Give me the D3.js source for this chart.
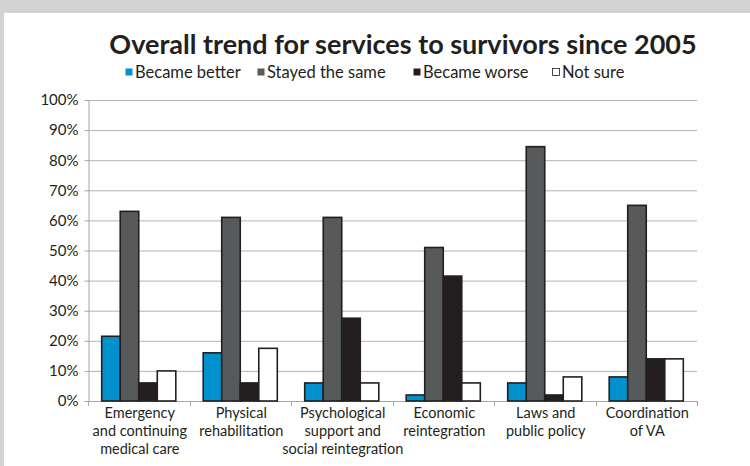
<!DOCTYPE html>
<html>
<head>
<meta charset="utf-8">
<script src="https://cdn.jsdelivr.net/npm/d3@7"></script>
<style>
  body { margin: 0; background: #d3d3d3; }
  svg { display: block; font-family: Lato, "DejaVu Sans", sans-serif; }
</style>
</head>
<body>
<script>
/********************************************************/
// Data (share of answers)
const categories = [
  "Emergency\nand continuing\nmedical care",
  "Physical\nrehabilitation",
  "Psychological\nsupport and\nsocial reintegration",
  "Economic\nreintegration",
  "Laws and\npublic policy",
  "Coordination\nof VA"
];
const seriesNames = ["Became better", "Stayed the same", "Became worse", "Not sure"];
const becameBetter = [0.215, 0.16, 0.06, 0.02, 0.06, 0.08];
const stayedSame   = [0.63, 0.61, 0.61, 0.51, 0.845, 0.65];
const becameWorse  = [0.06, 0.06, 0.275, 0.415, 0.02, 0.14];
const notSure      = [0.10, 0.175, 0.06, 0.06, 0.08, 0.14];
const yTicks = [0, 0.1, 0.2, 0.3, 0.4, 0.5, 0.6, 0.7, 0.8, 0.9, 1.0];
const titleText = "Overall trend for services to survivors since 2005";

const seriesColors = ["#0191cd", "#58595b", "#231f20", "#ffffff"];

/********************************************************/
const svgWidth = 750;
const svgHeight = 466;

const chartMargin = { top: 100, right: 53, bottom: 65, left: 88 };
const chartWidth = svgWidth - chartMargin.left - chartMargin.right;
const chartHeight = svgHeight - chartMargin.top - chartMargin.bottom;

const svg = d3
  .select("body")
  .append("svg")
  .attr("width", svgWidth)
  .attr("height", svgHeight);

// white panel over the grey page
svg.append("rect")
  .attr("x", 4)
  .attr("y", 13)
  .attr("width", svgWidth - 4)
  .attr("height", svgHeight - 13)
  .attr("fill", "#ffffff");

const chartGroup = svg
  .append("g")
  .attr("transform", `translate(${chartMargin.left}, ${chartMargin.top})`);

/************** Build rows from the arrays ************/
const data = categories.map((c, i) => ({
  category: c,
  values: [becameBetter[i], stayedSame[i], becameWorse[i], notSure[i]]
}));

/************** Scales ************/
const x0 = d3.scaleBand()
  .domain(categories)
  .range([0, chartWidth])
  .paddingInner(0.27)
  .paddingOuter(0.135);

const x1 = d3.scaleBand()
  .domain(d3.range(seriesNames.length))
  .range([0, x0.bandwidth()]);

const yScale = d3.scaleLinear()
  .domain([0, 1])
  .range([chartHeight, 0]);

const colorScale = d3.scaleOrdinal().domain(d3.range(4)).range(seriesColors);

/************** Gridlines ************/
chartGroup.append("g")
  .selectAll("line")
  .data(yTicks.slice(1))
  .enter()
  .append("line")
  .attr("x1", 0)
  .attr("x2", chartWidth)
  .attr("y1", d => yScale(d) + 0.5)
  .attr("y2", d => yScale(d) + 0.5)
  .attr("stroke", "#b3b3b3")
  .attr("stroke-width", 1);

/************** Axes ************/
const leftAxis = d3.axisLeft(yScale)
  .tickValues(yTicks)
  .tickFormat(d3.format(".0%"))
  .tickSizeInner(4)
  .tickSizeOuter(0)
  .tickPadding(6);

const yAxisG = chartGroup.append("g")
  .attr("transform", "translate(0.5,0)")
  .call(leftAxis);
yAxisG.select(".domain").attr("stroke", "#a6a6a6");
yAxisG.selectAll(".tick line").attr("stroke", "#a6a6a6");
yAxisG.selectAll(".tick text")
  .attr("font-size", "15px")
  .attr("fill", "#231f20")
  .attr("font-family", "Lato, sans-serif");

// x axis line
chartGroup.append("line")
  .attr("x1", 0)
  .attr("x2", chartWidth)
  .attr("y1", chartHeight + 0.5)
  .attr("y2", chartHeight + 0.5)
  .attr("stroke", "#a6a6a6");

// tick marks between categories
chartGroup.append("g")
  .selectAll("line")
  .data(d3.range(categories.length + 1))
  .enter()
  .append("line")
  .attr("x1", d => Math.round(d * x0.step()) + 0.5)
  .attr("x2", d => Math.round(d * x0.step()) + 0.5)
  .attr("y1", chartHeight)
  .attr("y2", chartHeight + 5)
  .attr("stroke", "#a6a6a6");

// category labels
const labelG = chartGroup.append("g")
  .selectAll("text")
  .data(categories)
  .enter()
  .append("text")
  .attr("text-anchor", "middle")
  .attr("font-size", "14.5px")
  .attr("fill", "#231f20")
  .attr("transform", d => `translate(${x0(d) + x0.bandwidth() / 2 + 1},${chartHeight + 17})`);

labelG.selectAll("tspan")
  .data(d => d.split("\n"))
  .enter()
  .append("tspan")
  .attr("x", 0)
  .attr("y", (d, i) => i * 18)
  .text(d => d);

/************** Bars ************/
chartGroup.append("g")
  .selectAll("g")
  .data(data)
  .enter()
  .append("g")
  .attr("transform", d => `translate(${x0(d.category)},0)`)
  .selectAll("rect")
  .data(d => d.values.map((v, i) => ({ i: i, v: v })))
  .enter()
  .append("rect")
  .attr("x", d => x1(d.i))
  .attr("y", d => yScale(d.v))
  .attr("width", x1.bandwidth())
  .attr("height", d => chartHeight - yScale(d.v))
  .attr("fill", d => colorScale(d.i))
  .attr("stroke", "#231f20")
  .attr("stroke-width", 1.6);

/************** Title ************/
svg.append("text")
  .text(titleText)
  .attr("x", 403)
  .attr("y", 54)
  .attr("text-anchor", "middle")
  .attr("font-size", "27px")
  .attr("font-weight", "bold")
  .attr("fill", "#231f20");

/************** Legend ************/
const legendX = [125, 257, 413, 552];
const legend = svg.append("g")
  .selectAll("g")
  .data(seriesNames)
  .enter()
  .append("g")
  .attr("transform", (d, i) => `translate(${legendX[i]},72)`);

legend.append("rect")
  .attr("x", 0.5)
  .attr("y", -3.5)
  .attr("width", 7)
  .attr("height", 7)
  .attr("fill", (d, i) => colorScale(i))
  .attr("stroke", (d, i) => i === 3 ? "#231f20" : "none")
  .attr("stroke-width", 0.8);

legend.append("text")
  .attr("x", 10)
  .attr("y", 6)
  .attr("font-size", "16.5px")
  .attr("fill", "#231f20")
  .text(d => d);
</script>
</body>
</html>
